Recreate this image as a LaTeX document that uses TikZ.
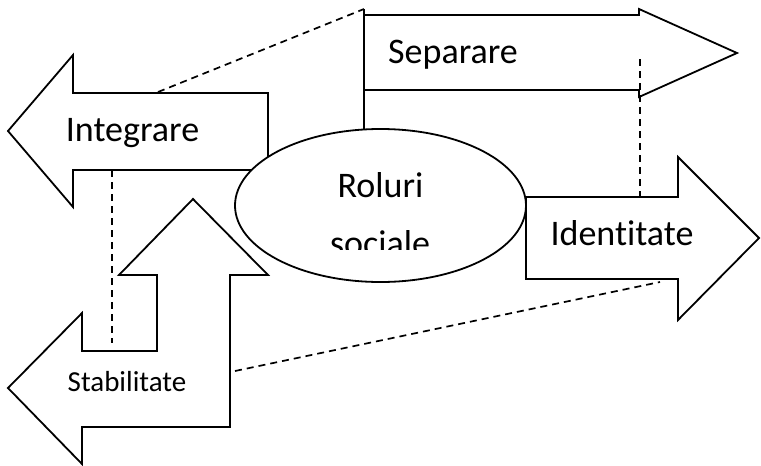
\documentclass[tikz,border=0pt]{standalone}
\usepackage{fontspec}
\setmainfont{Carlito}[Ligatures=NoCommon]
\usetikzlibrary{shapes.geometric}
\begin{document}
\begin{tikzpicture}[x=1pt,y=-1pt,
  shapeline/.style={draw=black, line width=1.8pt, fill=white, line join=miter},
  link/.style={draw=black, line width=1.7pt, dash pattern=on 7pt off 5pt},
  big/.style={font=\fontsize{36}{43}\selectfont, anchor=base, inner sep=0pt},
  small/.style={font=\fontsize{29}{35}\selectfont, anchor=base, inner sep=0pt}]
\useasboundingbox (0,0) rectangle (761,466);
% Integrare arrow
\draw[shapeline] (8,131) -- (73,55) -- (73,93) -- (268,93) -- (268,170) -- (73,170) -- (73,207) -- cycle;
% Stabilitate bent arrow
\draw[shapeline] (193,199) -- (268,275) -- (230,275) -- (230,427) -- (82,427) -- (82,464) -- (8,388) -- (82,313) -- (82,351) -- (157,351) -- (157,275) -- (119,275) -- cycle;
% Separare arrow
\draw[shapeline] (364,15) -- (639,15) -- (639,9) -- (737,53) -- (639,97) -- (639,90) -- (364,90) -- cycle;
% Identitate arrow
\draw[shapeline] (526,197) -- (678,197) -- (678,157) -- (759,238) -- (678,320) -- (678,279) -- (526,279) -- cycle;
% coordinates
\coordinate (sepcorner) at (364,9);
\coordinate (sepdown) at (364,150);
\coordinate (inttop) at (158,92);
\coordinate (intbot) at (112,170);
\coordinate (stabin) at (112,343);
\coordinate (sepin) at (640,59);
\coordinate (idtop) at (640,196);
\coordinate (stabright) at (235,371);
\coordinate (idbot) at (660,282);
\draw[draw=black, line width=1.8pt] (sepcorner) -- (sepdown);
% ellipse
\node[ellipse, draw=black, line width=1.8pt, fill=white, minimum width=291pt, minimum height=153pt, inner sep=0pt] (roles) at (380.5,205.5) {};
% dashed links
\draw[link] (inttop) -- (sepcorner);
\draw[link] (intbot) -- (stabin);
\draw[link] (sepin) -- (idtop);
\draw[link] (stabright) -- (idbot);
% texts
\node[big] (tint) at (132.5,141) {Integrare};
\node[big] (tsep) at (453,63) {Separare};
\node[big] (tid) at (622,245) {Identitate};
\node[big] (trol) at (380.5,197) {Roluri};
\begin{scope}
\clip (300,100) rectangle (460,249);
\node[big] (tsoc) at (380,255) {sociale};
\end{scope}
\node[small] (tstab) at (127,391) {Stabilitate};
\end{tikzpicture}
\end{document}
